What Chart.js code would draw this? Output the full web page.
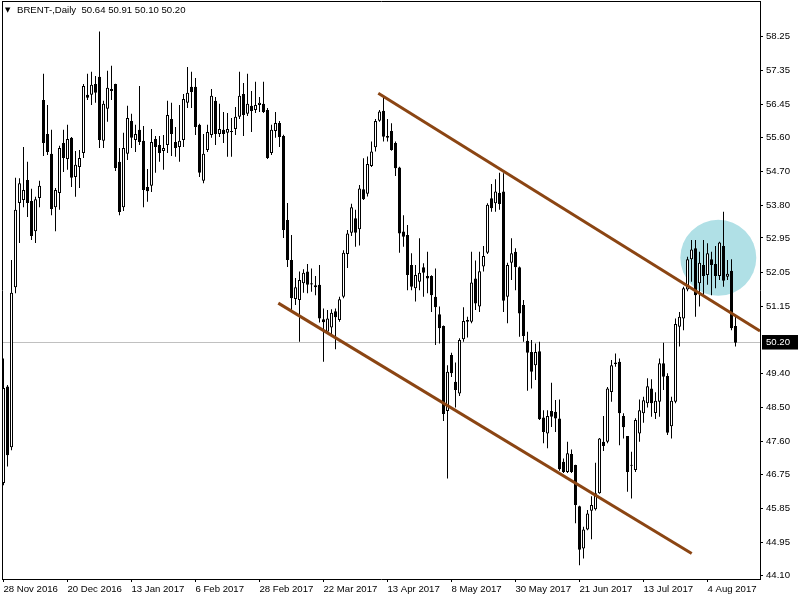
<!DOCTYPE html>
<html>
<head>
<meta charset="utf-8">
<script src="https://cdn.jsdelivr.net/npm/chart.js@4.4.0/dist/chart.umd.min.js"></script>
<style>
  html, body { margin: 0; padding: 0; background: #ffffff; }
  #wrap { position: relative; width: 800px; height: 600px; }
  #c { display: block; }
  #title { position: absolute; left: 17px; top: 4px; font: 9.6px "Liberation Sans", Arial, sans-serif; line-height: 12px; color: #000; white-space: pre; }
  #tri { position: absolute; left: 5px; top: 6px; font: 7px "DejaVu Sans", sans-serif; line-height: 9px; color: #000; }
</style>
</head>
<body>
<div id="wrap">
  <canvas id="c" width="800" height="600"></canvas>
  <div id="tri">▼</div>
  <div id="title">BRENT-,Daily  50.64 50.91 50.10 50.20</div>
</div>
<script>
// ---- data (daily candles, 28 Nov 2016 .. mid Aug 2017) ----
const opens = [
  46.52,49.05,47.46,51.66,53.87,53.95,54.47,53.92,53.13,54.00,
  56.57,55.68,55.16,53.76,54.13,55.44,55.02,55.58,54.55,54.81,
  55.18,56.71,56.71,56.99,57.18,55.50,56.34,56.86,56.99,54.95,
  53.76,55.16,56.02,55.52,55.79,55.50,54.29,54.32,55.55,55.39,
  55.23,55.39,56.07,55.47,55.34,55.52,56.50,56.92,56.92,55.92,
  54.45,55.26,55.65,56.55,55.68,55.79,55.71,55.73,55.81,56.13,
  56.73,56.21,56.42,56.31,56.44,56.47,56.31,55.18,55.76,55.97,
  55.63,53.42,52.37,51.35,51.32,51.76,52.07,51.76,51.71,51.72,
  50.82,50.49,50.60,51.03,50.80,51.41,52.53,53.09,53.47,53.18,
  54.23,54.11,54.84,55.33,56.03,56.29,55.63,55.76,55.44,54.80,
  53.12,53.03,52.24,51.63,51.80,52.18,51.95,51.95,51.41,50.95,
  50.64,48.41,49.88,49.18,48.87,50.29,50.80,50.75,51.89,51.15,
  52.20,52.56,53.99,53.86,54.14,54.17,51.41,52.30,52.59,52.18,
  51.19,50.25,49.96,49.61,49.98,48.24,47.82,48.41,48.39,48.21,
  47.08,46.81,47.28,46.99,45.91,44.80,45.30,45.79,45.83,46.25,
  47.60,47.60,48.91,49.64,49.70,48.28,47.75,46.97,46.86,47.82,
  48.35,48.61,49.00,48.36,48.65,49.66,49.33,48.01,48.65,50.62,
  50.84,51.60,52.39,52.68,51.76,52.24,51.98,52.39,52.27,51.95,
  52.74,51.93,52.09,50.64
];
const highs = [
  49.79,49.09,52.37,54.53,54.52,55.34,54.95,54.24,54.03,54.45,
  57.26,56.44,55.79,54.26,55.37,55.79,55.92,55.60,55.23,55.26,
  56.99,57.26,57.31,57.20,58.37,56.55,57.34,57.47,57.00,55.31,
  55.71,56.42,56.21,55.92,56.94,55.89,54.76,55.81,55.63,55.63,
  55.65,56.55,56.50,55.86,56.44,56.73,57.44,57.31,57.15,55.95,
  55.68,55.92,56.86,56.65,56.47,56.26,56.23,56.10,56.39,57.31,
  57.02,57.26,56.81,57.05,56.65,57.05,56.36,55.92,56.26,56.02,
  55.66,53.87,53.03,51.90,52.07,52.13,52.27,52.15,51.95,52.24,
  51.10,51.06,51.08,51.10,51.41,52.63,53.16,53.85,53.69,54.34,
  55.04,55.09,55.48,56.07,56.31,56.64,56.07,55.96,55.48,54.82,
  53.55,53.29,52.55,52.24,52.94,52.29,52.59,51.97,52.15,51.15,
  50.65,49.61,49.94,49.68,50.32,51.13,50.88,52.59,52.36,52.59,
  52.74,53.86,54.37,54.49,54.66,54.65,52.30,52.94,52.68,52.20,
  51.32,50.49,50.27,50.18,50.23,48.43,48.43,49.15,48.70,48.71,
  47.16,47.60,47.40,47.00,45.92,45.37,45.81,46.17,47.05,47.70,
  48.28,49.04,49.75,49.92,49.79,48.35,47.75,47.34,48.22,48.71,
  48.78,49.27,49.24,48.90,49.79,50.20,49.40,48.78,50.84,51.01,
  51.67,52.46,52.90,52.90,52.59,52.90,52.81,52.59,52.74,52.85,
  53.64,52.37,52.39,50.91
];
const lows = [
  46.46,46.95,47.38,51.50,52.82,53.76,53.50,52.90,52.82,53.76,
  55.10,55.13,53.55,53.13,53.69,54.68,54.74,54.29,54.03,54.26,
  55.05,56.57,56.44,56.50,55.31,55.31,56.00,56.57,54.71,53.55,
  53.66,55.00,55.31,55.21,55.39,53.76,53.90,54.16,54.66,54.95,
  54.74,55.18,55.10,55.08,54.95,55.34,56.36,56.36,55.65,54.55,
  54.39,55.21,55.58,55.39,55.60,55.44,55.08,55.08,55.65,56.07,
  55.63,56.15,55.73,56.23,56.26,56.23,55.02,55.13,55.58,55.34,
  52.95,52.19,51.06,51.19,50.23,51.51,51.50,51.54,51.45,50.73,
  49.70,50.43,50.36,50.03,50.75,51.37,52.16,53.00,52.72,52.75,
  53.95,54.04,54.81,55.22,56.00,55.48,55.48,55.24,54.58,52.56,
  52.72,51.58,51.58,51.28,51.58,51.41,51.50,51.01,50.14,50.18,
  48.15,46.64,49.30,48.50,48.80,50.23,50.34,50.71,51.06,51.01,
  52.07,52.53,53.64,53.64,53.69,51.01,50.71,51.85,51.58,50.36,
  50.23,48.94,49.00,49.22,48.17,47.56,47.43,47.99,47.86,46.84,
  46.78,46.78,46.78,45.46,44.36,44.54,45.28,45.04,45.80,46.24,
  47.36,47.56,48.65,49.57,47.51,47.69,46.29,46.11,46.81,47.60,
  48.10,48.50,48.26,48.20,48.26,48.96,47.78,47.69,48.61,50.10,
  50.53,51.55,51.80,50.88,51.15,51.45,51.72,51.45,51.63,51.85,
  51.67,51.85,50.53,50.10
];
const closes = [
  49.01,47.25,51.51,53.69,54.39,54.21,53.87,53.00,53.97,54.32,
  55.44,55.21,53.71,54.21,55.31,55.05,55.55,54.53,54.87,55.05,
  56.94,56.63,56.97,56.76,55.52,56.47,56.89,56.81,54.79,53.63,
  55.31,56.10,55.58,55.68,55.47,54.21,54.18,55.47,55.34,55.18,
  55.31,56.18,55.68,55.31,55.50,56.60,56.76,56.78,55.86,54.66,
  55.16,55.73,56.68,55.68,55.81,55.68,55.81,55.75,56.13,56.68,
  56.18,56.47,56.28,56.44,56.50,56.26,55.05,55.79,55.97,55.60,
  53.16,52.37,51.37,51.66,51.85,52.04,51.72,51.73,51.66,50.84,
  50.74,50.84,50.99,50.87,51.34,52.56,53.07,53.76,53.09,54.25,
  53.97,54.89,55.22,56.02,56.27,55.61,55.58,55.26,54.78,53.07,
  52.98,51.98,51.67,51.98,52.04,52.04,51.89,51.45,51.13,50.58,
  48.33,49.44,49.40,48.96,50.27,50.77,50.75,51.78,51.23,52.08,
  52.48,53.82,53.73,54.17,53.84,51.30,52.24,52.55,52.18,50.97,
  50.38,49.94,49.44,49.96,48.19,47.86,48.28,48.26,48.21,46.88,
  46.81,47.30,46.81,45.94,44.77,45.30,45.72,45.94,46.25,47.69,
  47.49,49.00,49.61,49.68,48.35,47.98,46.81,47.00,48.17,48.43,
  48.69,49.06,48.61,48.68,49.66,49.31,47.84,48.68,50.69,50.88,
  51.63,52.39,52.65,51.45,52.30,51.95,52.55,52.24,51.95,52.83,
  51.83,52.01,50.58,50.20
];
const dateTickLabels = ['28 Nov 2016','20 Dec 2016','13 Jan 2017','6 Feb 2017','28 Feb 2017','22 Mar 2017',
                        '13 Apr 2017','8 May 2017','30 May 2017','21 Jun 2017','13 Jul 2017','4 Aug 2017'];
const dateTickBars = [0,16,32,48,64,80,96,112,128,144,160,176];
const priceTickLabels = [58.25,57.35,56.45,55.60,54.70,53.80,52.95,52.05,51.15,49.40,48.50,47.60,46.75,45.85,44.95,44.10];
// channel lines (bar index, price) and highlighted zone
const upperChannelBars = [93.7, 189.125];
const upperChannelPrices = [56.75, 50.51];
const lowerChannelBars = [68.7, 172.05];
const lowerChannelPrices = [51.24, 44.67];
const zoneBars = [178.7];
const zonePrices = [52.43];

// ---- build chart ----
const lastClose = closes[closes.length - 1];
const X_MIN = -0.375, X_MAX = 189.125;
const Y_MIN = 44.0, Y_MAX = 59.17;
const idx = opens.map((_, i) => i);
const wickData = idx.map(i => ({ x: i, y: [lows[i], highs[i]] }));
const bodyData = idx.map(i => ({ x: i, y: [opens[i], closes[i]] }));
const bodyFill = idx.map(i => closes[i] >= opens[i] ? '#ffffff' : '#000000');
const toPts = (xs, ys) => xs.map((x, i) => ({ x: x, y: ys[i] }));
const isLast = ctx => ctx.tick && Math.abs(ctx.tick.value - lastClose) < 1e-9;
const noPad = s => { s.paddingTop = 0; s.paddingBottom = 0; s.paddingLeft = 0; s.paddingRight = 0; };

Chart.defaults.font.family = '"Liberation Sans", Arial, sans-serif';
Chart.defaults.font.size = 9.6;
Chart.defaults.color = '#000';

new Chart(document.getElementById('c'), {
  type: 'bar',
  data: {
    datasets: [
      { type: 'bubble', data: toPts(zoneBars, zonePrices), radius: 38, hoverRadius: 0,
        backgroundColor: '#B0E0E6', borderWidth: 0, order: 4, xAxisID: 'x', yAxisID: 'y' },
      { type: 'bar', data: wickData, barThickness: 1, grouped: false, backgroundColor: '#000',
        borderWidth: 0, inflateAmount: 0, borderSkipped: false, minBarLength: 1, order: 3, xAxisID: 'x', yAxisID: 'y' },
      { type: 'bar', data: bodyData, barThickness: 3, grouped: false, backgroundColor: bodyFill,
        borderColor: '#000', borderWidth: 1, inflateAmount: 0, borderSkipped: false, minBarLength: 1,
        order: 2, xAxisID: 'x', yAxisID: 'y' },
      { type: 'line', data: toPts(upperChannelBars, upperChannelPrices), borderColor: '#8B4513', borderWidth: 3,
        pointRadius: 0, fill: false, borderCapStyle: 'butt', clip: 0, order: 1, xAxisID: 'x', yAxisID: 'y' },
      { type: 'line', data: toPts(lowerChannelBars, lowerChannelPrices), borderColor: '#8B4513', borderWidth: 3,
        pointRadius: 0, fill: false, borderCapStyle: 'butt', clip: 0, order: 1, xAxisID: 'x', yAxisID: 'y' }
    ]
  },
  options: {
    responsive: false,
    animation: false,
    devicePixelRatio: 1,
    events: [],
    layout: { padding: { left: 2, top: 1, right: 0, bottom: 0 }, autoPadding: false },
    plugins: { legend: { display: false }, tooltip: { enabled: false }, title: { display: false } },
    scales: {
      x: {
        type: 'linear', position: 'bottom', min: X_MIN, max: X_MAX, offset: false,
        afterBuildTicks: s => { s.ticks = dateTickBars.map(v => ({ value: v })); },
        afterFit: s => { s.height = 21; noPad(s); },
        ticks: { autoSkip: false, maxRotation: 0, minRotation: 0, align: 'start', padding: 2,
                 callback: v => dateTickLabels[dateTickBars.indexOf(v)] },
        grid: { offset: false, drawOnChartArea: false, drawTicks: true, tickLength: 3, tickColor: '#000' },
        border: { display: true, color: '#000', width: 1 }
      },
      y: {
        type: 'linear', position: 'right', min: Y_MIN, max: Y_MAX,
        afterBuildTicks: s => { s.ticks = priceTickLabels.concat([lastClose]).sort((a, b) => a - b).map(v => ({ value: v })); },
        afterFit: s => { s.width = 40; noPad(s); },
        ticks: {
          autoSkip: false, padding: 3, crossAlign: 'near',
          callback: v => v.toFixed(2),
          color: ctx => isLast(ctx) ? '#ffffff' : '#000000',
          showLabelBackdrop: ctx => isLast(ctx),
          backdropColor: '#000000',
          backdropPadding: { top: 2, bottom: 1, left: 4, right: 8 }
        },
        grid: {
          drawOnChartArea: true, drawTicks: true, tickLength: 3,
          color: ctx => isLast(ctx) ? '#C0C0C0' : 'rgba(0,0,0,0)',
          tickColor: ctx => isLast(ctx) ? 'rgba(0,0,0,0)' : '#000000'
        },
        border: { display: true, color: '#000', width: 1 }
      },
      xTop: {
        type: 'linear', position: 'top', min: X_MIN, max: X_MAX, offset: false,
        ticks: { display: false }, grid: { display: false },
        afterFit: s => { s.height = 0; noPad(s); },
        border: { display: true, color: '#000', width: 1 }
      },
      yLeft: {
        type: 'linear', position: 'left', min: Y_MIN, max: Y_MAX,
        ticks: { display: false }, grid: { display: false },
        afterFit: s => { s.width = 0; noPad(s); },
        border: { display: true, color: '#000', width: 1 }
      }
    }
  }
});
</script>
</body>
</html>
